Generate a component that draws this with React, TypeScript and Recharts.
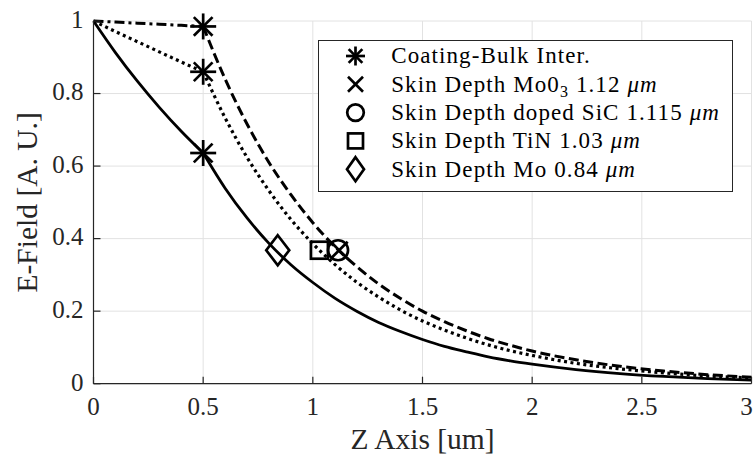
import { CartesianGrid, ComposedChart, Legend, Line, Scatter, XAxis, YAxis } from "recharts";

// z positions [um]
const coatZ = [0, 0.1, 0.2, 0.3, 0.4, 0.5];
const bulkZ = [0.5, 0.6, 0.7, 0.8, 0.9, 1.0, 1.1, 1.2, 1.3, 1.4, 1.5, 1.6, 1.7, 1.8, 1.9, 2.0, 2.2, 2.4, 2.6, 2.8, 3.0];

// E-field (coating part, then bulk part)
const moCoat = [1, 0.913, 0.834, 0.762, 0.696, 0.636];
const moBulk = [0.636, 0.539, 0.457, 0.387, 0.328, 0.279, 0.236, 0.2, 0.169, 0.144, 0.122, 0.103, 0.088, 0.074, 0.063, 0.054, 0.039, 0.028, 0.02, 0.014, 0.01];
const tinCoat = [1, 0.971, 0.943, 0.915, 0.887, 0.86];
const tinBulk = [0.86, 0.733, 0.624, 0.532, 0.453, 0.386, 0.329, 0.28, 0.239, 0.203, 0.173, 0.148, 0.126, 0.107, 0.091, 0.078, 0.056, 0.041, 0.03, 0.021, 0.016];
const oxCoat = [1, 0.997, 0.994, 0.991, 0.988, 0.985];
const oxBulk = [0.985, 0.84, 0.716, 0.61, 0.521, 0.444, 0.378, 0.323, 0.275, 0.235, 0.2, 0.171, 0.146, 0.124, 0.106, 0.09, 0.066, 0.048, 0.035, 0.025, 0.018];

// markers
const interfaceZ = 0.5;
const interfaceE = [0.985, 0.86, 0.636];
const skinKinds = ["x", "circle", "square", "diamond"];
const skinZ = [1.12, 1.115, 1.03, 0.84];
const skinE = [0.368, 0.368, 0.368, 0.368];

const xTicks = [0, 0.5, 1, 1.5, 2, 2.5, 3];
const yTicks = [0, 0.2, 0.4, 0.6, 0.8, 1];

const legendKinds = ["star", "x", "circle", "square", "diamond"];

const font = "Liberation Serif, serif";
const ink = "#262626";

const toPoints = (zs: number[], es: number[]) => zs.map((z, i) => ({ z, e: es[i] }));

function Marker({ kind, cx, cy, small = false }: { kind: string; cx: number; cy: number; small?: boolean }) {
  const p = { fill: "none", stroke: "#000", strokeWidth: 2.7 };
  if (kind === "star") {
    const r = small ? 9.5 : 13;
    const d = r * 0.72;
    return (
      <g {...p}>
        <line x1={cx - r} y1={cy} x2={cx + r} y2={cy} />
        <line x1={cx} y1={cy - r} x2={cx} y2={cy + r} />
        <line x1={cx - d} y1={cy - d} x2={cx + d} y2={cy + d} />
        <line x1={cx - d} y1={cy + d} x2={cx + d} y2={cy - d} />
      </g>
    );
  }
  if (kind === "x") {
    const r = small ? 7.5 : 8.5;
    return (
      <g {...p}>
        <line x1={cx - r} y1={cy - r} x2={cx + r} y2={cy + r} />
        <line x1={cx - r} y1={cy + r} x2={cx + r} y2={cy - r} />
      </g>
    );
  }
  if (kind === "circle") return <circle cx={cx} cy={cy} r={small ? 8.3 : 10} {...p} />;
  if (kind === "square") {
    const r = small ? 7.5 : 8.5;
    return <rect x={cx - r} y={cy - r} width={2 * r} height={2 * r} {...p} />;
  }
  const w = small ? 8.5 : 11.5;
  const h = small ? 12 : 15;
  return <polygon points={`${cx},${cy - h} ${cx + w},${cy} ${cx},${cy + h} ${cx - w},${cy}`} {...p} />;
}

function LegendLabel({ i }: { i: number }) {
  const mu = <tspan fontStyle="italic">μm</tspan>;
  if (i === 0) return <>Coating-Bulk Inter.</>;
  if (i === 1)
    return (
      <>
        Skin Depth Mo0<tspan fontSize={16} dy={5}>3</tspan>
        <tspan dy={-5}> 1.12 </tspan>
        {mu}
      </>
    );
  if (i === 2) return <>Skin Depth doped SiC 1.115 {mu}</>;
  if (i === 3) return <>Skin Depth TiN 1.03 {mu}</>;
  return <>Skin Depth Mo 0.84 {mu}</>;
}

function LegendBox() {
  const rowH = 28.3;
  return (
    <svg width={415} height={152} style={{ display: "block" }}>
      <rect x={0.5} y={0.5} width={414} height={151} fill="#fff" stroke={ink} strokeWidth={1} />
      {legendKinds.map((kind, i) => {
        const cy = 16 + i * rowH;
        return (
          <g key={kind}>
            <Marker kind={kind} cx={37.5} cy={cy} small />
            <text
              x={73.2}
              y={cy + 7.4}
              fontFamily={font}
              fontSize={23}
              fill="#000"
              style={{ letterSpacing: "1.1px", whiteSpace: "pre" }}
            >
              <LegendLabel i={i} />
            </text>
          </g>
        );
      })}
    </svg>
  );
}

function XTick(props: any) {
  const { x, y, payload } = props;
  const last = payload.value === xTicks[xTicks.length - 1];
  return (
    <text x={last ? x - 5 : x} y={y} dy="0.71em" textAnchor="middle" fill={ink} fontSize={25} fontFamily={font}>
      {payload.value}
    </text>
  );
}

export default function App() {
  return (
    <div style={{ position: "absolute", left: 0, top: 0, width: 755, height: 457, background: "#fff" }}>
      <ComposedChart width={755} height={457} margin={{ top: 21, right: 3.5, left: 0, bottom: 0 }}>
        <CartesianGrid stroke="#e2e2e2" strokeWidth={1} />
        <XAxis
          type="number"
          dataKey="z"
          domain={[0, 3]}
          ticks={xTicks}
          interval={0}
          height={73.3}
          axisLine={{ stroke: ink, strokeWidth: 1.2 }}
          tickLine={{ stroke: ink, strokeWidth: 1.2 }}
          tickSize={-7}
          tickMargin={20.5}
          tick={<XTick />}
          label={{ value: "Z Axis [um]", position: "insideBottom", offset: 8, fill: ink, fontSize: 29.5, fontFamily: font }}
        />
        <YAxis
          type="number"
          dataKey="e"
          domain={[0, 1]}
          ticks={yTicks}
          interval={0}
          width={93.5}
          axisLine={{ stroke: ink, strokeWidth: 1.2 }}
          tickLine={{ stroke: ink, strokeWidth: 1.2 }}
          tickSize={-7}
          tickMargin={17}
          tick={{ fill: ink, fontSize: 25, fontFamily: font, dy: -2 }}
          label={{
            value: "E-Field [A. U.]",
            angle: -90,
            position: "insideLeft",
            offset: 27,
            fill: ink,
            fontSize: 29.5,
            fontFamily: font,
            style: { textAnchor: "middle" },
          }}
        />
        <Legend
          layout="vertical"
          align="center"
          verticalAlign="middle"
          content={() => <LegendBox />}
          wrapperStyle={{ left: 317.5, top: 40, right: "auto", bottom: "auto", width: 415, height: 152 }}
        />

        <Line data={toPoints(coatZ, moCoat)} dataKey="e" type="monotone" stroke="#000" strokeWidth={2.8} dot={false} activeDot={false} isAnimationActive={false} />
        <Line data={toPoints(bulkZ, moBulk)} dataKey="e" type="monotone" stroke="#000" strokeWidth={2.8} dot={false} activeDot={false} isAnimationActive={false} />
        <Line data={toPoints(coatZ, tinCoat)} dataKey="e" type="monotone" stroke="#000" strokeWidth={3.2} strokeDasharray="3 3.5" dot={false} activeDot={false} isAnimationActive={false} />
        <Line data={toPoints(bulkZ, tinBulk)} dataKey="e" type="monotone" stroke="#000" strokeWidth={3.2} strokeDasharray="3 3.5" dot={false} activeDot={false} isAnimationActive={false} />
        <Line data={toPoints(coatZ, oxCoat)} dataKey="e" type="monotone" stroke="#000" strokeWidth={3} strokeDasharray="10 4 3 4" dot={false} activeDot={false} isAnimationActive={false} />
        <Line data={toPoints(bulkZ, oxBulk)} dataKey="e" type="monotone" stroke="#000" strokeWidth={3} strokeDasharray="10 4.5" dot={false} activeDot={false} isAnimationActive={false} />

        <Scatter
          data={interfaceE.map((e) => ({ z: interfaceZ, e }))}
          isAnimationActive={false}
          shape={(props: any) => <Marker kind="star" cx={props.cx} cy={props.cy} />}
        />
        {skinKinds.map((kind, i) => (
          <Scatter
            key={kind}
            data={[{ z: skinZ[i], e: skinE[i] }]}
            isAnimationActive={false}
            shape={(props: any) => <Marker kind={kind} cx={props.cx} cy={props.cy} />}
          />
        ))}
      </ComposedChart>
    </div>
  );
}
